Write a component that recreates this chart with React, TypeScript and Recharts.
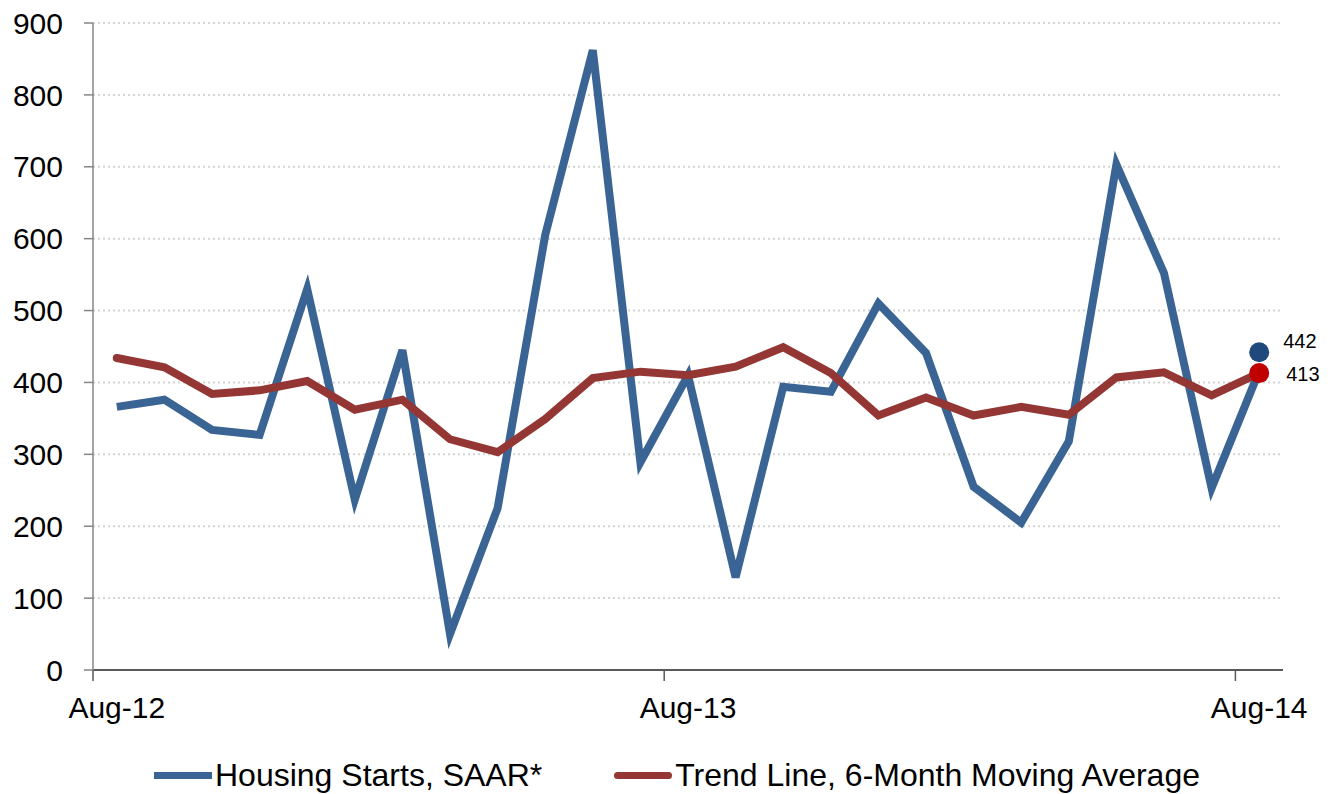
import { LineChart, Line, XAxis, YAxis, CartesianGrid } from "recharts"

const months = [
  "Aug-12", "Sep-12", "Oct-12", "Nov-12", "Dec-12", "Jan-13", "Feb-13", "Mar-13", "Apr-13",
  "May-13", "Jun-13", "Jul-13", "Aug-13", "Sep-13", "Oct-13", "Nov-13", "Dec-13", "Jan-14",
  "Feb-14", "Mar-14", "Apr-14", "May-14", "Jun-14", "Jul-14", "Aug-14",
]

const housingStarts = [
  366, 376, 334, 327, 530, 237, 445, 50, 225, 605, 862, 289, 410,
  129, 394, 387, 510, 441, 255, 205, 318, 703, 552, 253, 416,
]

const trendLine = [
  434, 421, 384, 389, 402, 362, 376, 321, 303, 349, 406, 415, 410,
  422, 449, 413, 354, 379, 354, 366, 355, 407, 414, 382, 413,
]

const latestStarts = 442
const latestTrend = 413

const yTicks = [0, 100, 200, 300, 400, 500, 600, 700, 800, 900]
const xTicks = [0, 12, 24]

const BLUE = "#3A6494"
const RED = "#943634"
const FONT = "'Liberation Sans', Arial, sans-serif"

const last = months.length - 1
const data = months.map((m, i) => ({
  idx: i,
  month: m,
  starts: housingStarts[i],
  trend: trendLine[i],
  startsMarker: i === last ? latestStarts : null,
  trendMarker: i === last ? latestTrend : null,
}))

// width of one month on the x axis (plot area 93..1283)
const step = (1283 - 93) / months.length

function MonthTick(props: any) {
  const { x, y, payload } = props
  const edge = x - step / 2
  return (
    <g>
      <line x1={edge} y1={y} x2={edge} y2={y + 11} stroke="#595959" strokeWidth={1.5} />
      <text x={x} y={y + 48} textAnchor="middle" fill="#000" fontSize={30} fontFamily={FONT}>
        {months[payload.value]}
      </text>
    </g>
  )
}

function markerDot(fill: string, dx: number, dy: number) {
  return (props: any) => {
    const { cx, cy, value, index } = props
    if (value == null || cy == null) return <g key={index} />
    return (
      <g key={index}>
        <circle cx={cx} cy={cy} r={10} fill={fill} />
        <text x={cx + dx} y={cy + dy} fontSize={20} fontFamily={FONT} fill="#000">
          {value}
        </text>
      </g>
    )
  }
}

function LegendBox() {
  const item = (color: string, label: string, round: boolean) => (
    <div style={{ display: "flex", alignItems: "center" }}>
      <div
        style={{
          width: 58,
          height: 7,
          background: color,
          borderRadius: round ? 4 : 0,
          marginRight: 3,
        }}
      />
      <span>{label}</span>
    </div>
  )
  return (
    <div
      style={{
        position: "absolute",
        left: 0,
        top: 757,
        width: 1336,
        display: "flex",
        justifyContent: "center",
        gap: 72,
        paddingLeft: 18,
        boxSizing: "border-box",
        fontFamily: FONT,
        fontSize: 32,
        color: "#000",
        lineHeight: "36px",
      }}
    >
      {item(BLUE, "Housing Starts, SAAR*", false)}
      {item(RED, "Trend Line, 6-Month Moving Average", true)}
    </div>
  )
}

export default function App() {
  return (
    <div style={{ position: "absolute", left: 0, top: 0, width: 1336, height: 794, background: "#fff" }}>
      <LineChart width={1336} height={794} data={data} margin={{ top: 23, right: 53, bottom: 0, left: 0 }}>
        <CartesianGrid
          horizontal
          vertical={false}
          stroke="#D4D4D4"
          strokeWidth={2}
          strokeDasharray="2 3"
        />
        <XAxis
          type="number"
          dataKey="idx"
          domain={[-0.5, 24.5]}
          ticks={xTicks}
          height={124}
          tickLine={false}
          tickSize={0}
          tickMargin={0}
          axisLine={{ stroke: "#595959", strokeWidth: 2 }}
          tick={<MonthTick />}
        />
        <YAxis
          width={93}
          domain={[0, 900]}
          ticks={yTicks}
          interval={0}
          tickSize={9}
          tickMargin={21}
          tickLine={{ stroke: "#868686", strokeWidth: 1.5 }}
          axisLine={{ stroke: "#868686", strokeWidth: 1.5 }}
          tick={{ fill: "#000", fontSize: 30, fontFamily: FONT }}
        />
        <Line
          type="linear"
          dataKey="starts"
          name="Housing Starts, SAAR*"
          stroke={BLUE}
          strokeWidth={8}
          strokeLinejoin="miter"
          dot={false}
          activeDot={false}
          isAnimationActive={false}
        />
        <Line
          type="linear"
          dataKey="trend"
          name="Trend Line, 6-Month Moving Average"
          stroke={RED}
          strokeWidth={8}
          strokeLinejoin="miter"
          strokeLinecap="round"
          dot={false}
          activeDot={false}
          isAnimationActive={false}
        />
        <Line
          dataKey="startsMarker"
          stroke="none"
          legendType="none"
          dot={markerDot("#1F497D", 24, -4)}
          activeDot={false}
          isAnimationActive={false}
        />
        <Line
          dataKey="trendMarker"
          stroke="none"
          legendType="none"
          dot={markerDot("#C00000", 27, 8)}
          activeDot={false}
          isAnimationActive={false}
        />
      </LineChart>
      <LegendBox />
    </div>
  )
}
